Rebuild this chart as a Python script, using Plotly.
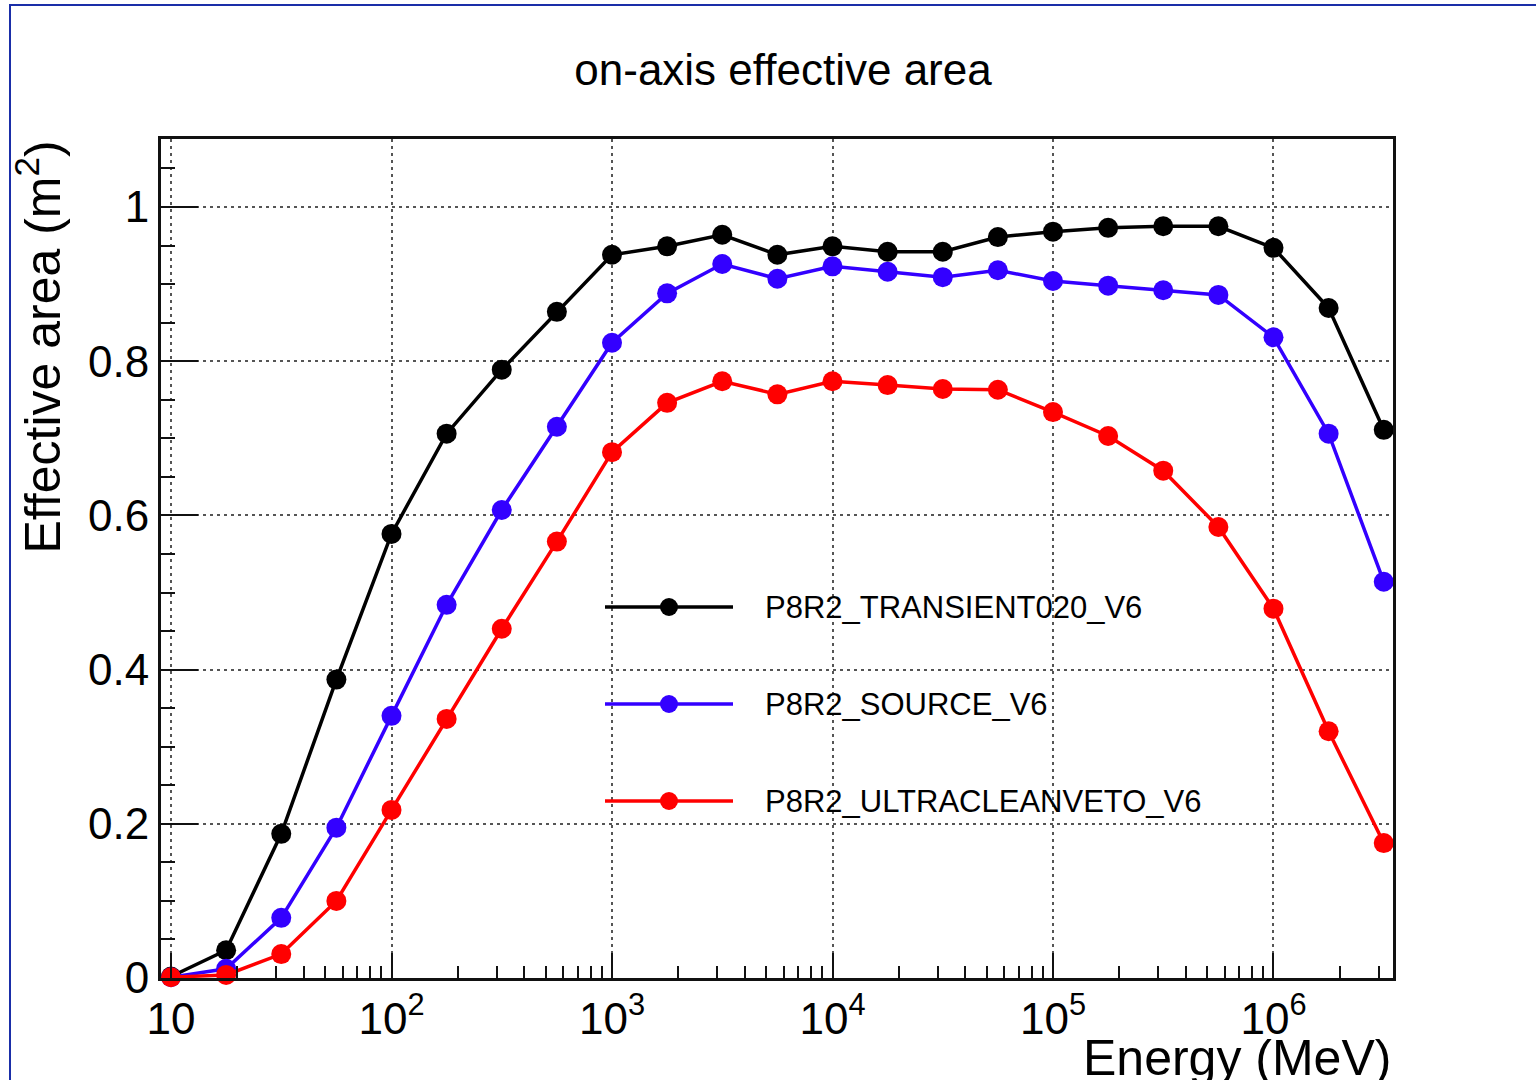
import plotly.graph_objects as go

# ---------------- data ----------------
energy_mev = [10, 17.78, 31.62, 56.23, 100, 177.8, 316.2, 562.3, 1000, 1778, 3162, 5623,
              10000, 17783, 31623, 56234, 100000, 177828, 316228, 562341, 1000000, 1778279, 3162278]

transient020 = [0.002, 0.036, 0.187, 0.387, 0.576, 0.706, 0.789, 0.864, 0.938, 0.949, 0.964, 0.938,
                0.949, 0.942, 0.942, 0.961, 0.968, 0.973, 0.975, 0.975, 0.947, 0.869, 0.711]
source = [0.001, 0.012, 0.078, 0.195, 0.340, 0.484, 0.607, 0.715, 0.824, 0.888, 0.926, 0.907,
          0.923, 0.916, 0.909, 0.918, 0.904, 0.898, 0.892, 0.886, 0.831, 0.706, 0.514]
ultracleanveto = [0.001, 0.004, 0.031, 0.100, 0.218, 0.336, 0.453, 0.566, 0.682, 0.746, 0.774, 0.757,
                  0.774, 0.769, 0.764, 0.763, 0.734, 0.703, 0.658, 0.585, 0.479, 0.320, 0.175]

series_names = ["P8R2_TRANSIENT020_V6", "P8R2_SOURCE_V6", "P8R2_ULTRACLEANVETO_V6"]
series_colors = ["#000000", "#3300ff", "#ff0000"]

x_tick_vals = [10, 100, 1000, 10000, 100000, 1000000]
x_tick_text = ["10", "10<sup>2</sup>", "10<sup>3</sup>", "10<sup>4</sup>", "10<sup>5</sup>", "10<sup>6</sup>"]
y_tick_vals = [0, 0.2, 0.4, 0.6, 0.8, 1.0]
y_tick_text = ["0", "0.2", "0.4", "0.6", "0.8", "1"]

# ---------------- layout geometry (pixels) ----------------
W, H = 1536, 1080
L, R, T, B = 161, 1393, 139, 978
FONT = "Liberation Sans, Arial, Helvetica, sans-serif"


def px_x(p):
    return (p - L) / (R - L)


def px_y(p):
    return (B - p) / (B - T)


fig = go.Figure()
for name, vals, col in zip(series_names, [transient020, source, ultracleanveto], series_colors):
    fig.add_trace(go.Scatter(
        x=energy_mev, y=vals, mode="lines+markers", name=name,
        line=dict(color=col, width=3.5),
        marker=dict(color=col, size=20, symbol="circle"),
        cliponaxis=False, showlegend=False,
    ))

# manual ROOT-like legend drawn on a pixel-space overlay axis
legend_rows = [607, 704, 801]
for name, col, yrow in zip(series_names, series_colors, legend_rows):
    fig.add_trace(go.Scatter(
        x=[605, 669, 733], y=[yrow, yrow, yrow], xaxis="x2", yaxis="y2",
        mode="lines", line=dict(color=col, width=3.5), showlegend=False, hoverinfo="skip",
    ))
    fig.add_trace(go.Scatter(
        x=[669], y=[yrow], xaxis="x2", yaxis="y2",
        mode="markers", marker=dict(color=col, size=18), showlegend=False, hoverinfo="skip",
    ))
    fig.add_annotation(x=763, y=yrow, xref="x2", yref="y2", text=name, showarrow=False,
                       xanchor="left", yanchor="middle", font=dict(family=FONT, size=31, color="#000"))

grid_common = dict(showgrid=True, gridcolor="#555555", gridwidth=2, griddash="3px,4px",
                   showline=True, linecolor="#111111", linewidth=3, mirror=True,
                   zeroline=False, ticks="inside", tickcolor="#111111", tickwidth=2,
                   tickfont=dict(family=FONT, size=44, color="#000"))

minor_x = [m * d for d in [10, 100, 1000, 10000, 100000, 1000000] for m in range(2, 10)]

fig.update_layout(
    width=W, height=H,
    margin=dict(l=L, r=W - R, t=T, b=H - B, pad=0),
    paper_bgcolor="white", plot_bgcolor="white",
    title=dict(text="on-axis effective area", x=783 / W, xanchor="center",
               y=1 - 70 / H, yanchor="middle", yref="container",
               font=dict(family=FONT, size=44, color="#000")),
    xaxis=dict(type="log", range=[0.9546, 6.542], tickmode="array",
               tickvals=x_tick_vals, ticktext=x_tick_text, ticklen=25,
               minor=dict(tickmode="array", tickvals=minor_x, ticks="inside", ticklen=12,
                          tickcolor="#111111", tickwidth=2, showgrid=False),
               **grid_common),
    yaxis=dict(range=[0, (B - T) / 771], tickmode="array",
               tickvals=y_tick_vals, ticktext=y_tick_text, ticklen=37,
               minor=dict(dtick=0.05, tick0=0, ticks="inside", ticklen=14,
                          tickcolor="#111111", tickwidth=2, showgrid=False),
               **grid_common),
    xaxis2=dict(overlaying="x", range=[L, R], visible=False),
    yaxis2=dict(overlaying="y", range=[B, T], visible=False),
    showlegend=False,
)

# axis titles (ROOT style: aligned to the axis end)
fig.add_annotation(x=px_x(38), y=px_y(139), xref="paper", yref="paper",
                   text="Effective area (m<sup>2</sup>)", textangle=-90, showarrow=False,
                   xanchor="center", yanchor="top", font=dict(family=FONT, size=50, color="#000"))
fig.add_annotation(x=px_x(1393), y=px_y(1058), xref="paper", yref="paper",
                   text="Energy (MeV)", showarrow=False,
                   xanchor="right", yanchor="middle", font=dict(family=FONT, size=50, color="#000"))

# outer blue canvas frame
fig.add_shape(type="rect", xref="paper", yref="paper",
              x0=px_x(10), x1=px_x(1560), y0=px_y(1100), y1=px_y(5),
              line=dict(color="#1a2ea8", width=2), fillcolor="rgba(0,0,0,0)", layer="above")

fig.write_html("out.html")
